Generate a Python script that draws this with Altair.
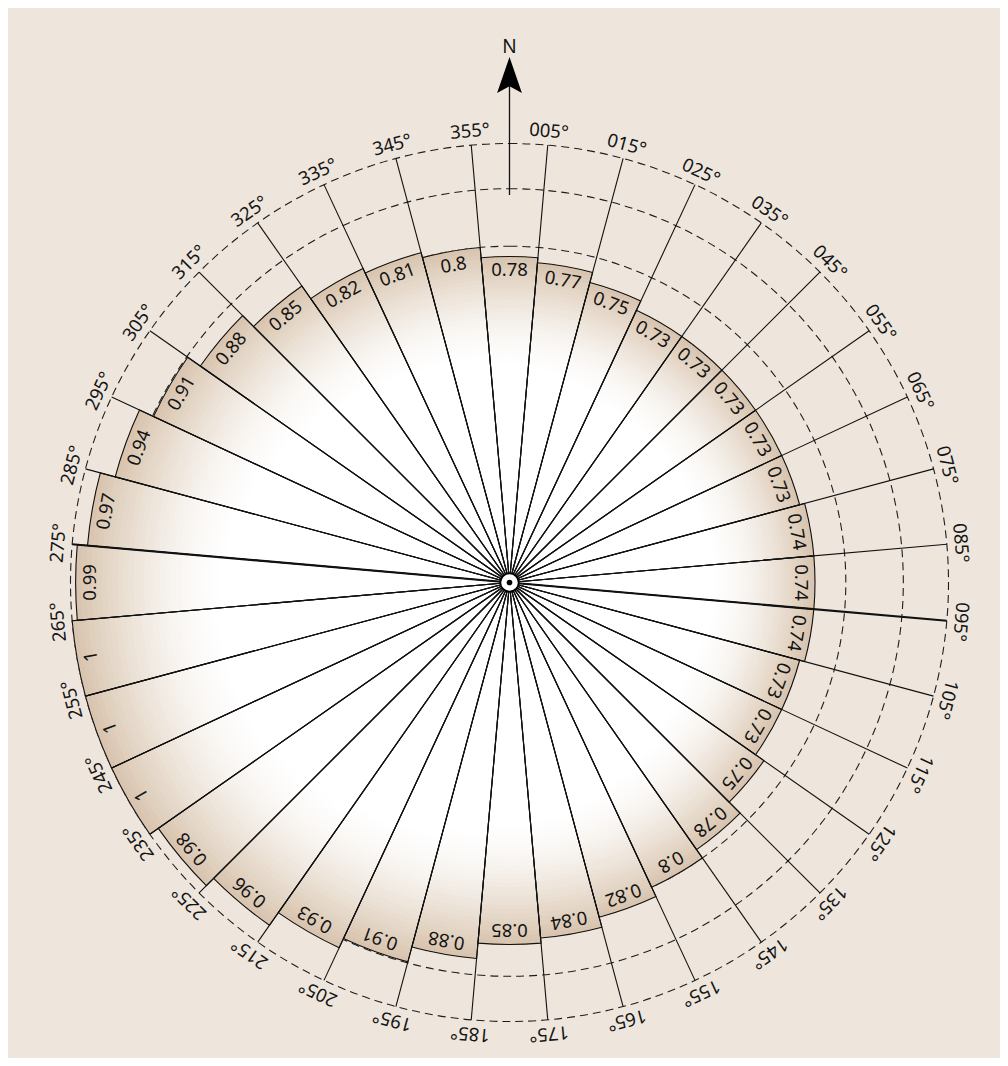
import math
import numpy as np
import pandas as pd
import altair as alt

# ---------------- data ----------------
sector_angles = list(range(0, 360, 10))          # sector centres (compass degrees)
sector_values = [0.78, 0.77, 0.75, 0.73, 0.73, 0.73, 0.73, 0.73, 0.74, 0.74,
                 0.74, 0.73, 0.73, 0.75, 0.78, 0.8, 0.82, 0.84, 0.85, 0.88,
                 0.91, 0.93, 0.96, 0.98, 1, 1, 1, 0.99, 0.97, 0.94,
                 0.91, 0.88, 0.85, 0.82, 0.81, 0.8]
line_angles = list(range(5, 360, 10))            # direction lines
line_labels = [f"{a:03d}°" for a in line_angles]
circle_values = [0.8, 0.912, 1.0]                # dashed reference circles

# ---------------- layout constants ----------------
V0 = 0.145          # value at the centre of the radial scale
R_OUT = 439         # pixel radius of value 1.0
W = 900
FONT = "Noto Sans"
INK = "#141414"
BG = "#EEE6DC"

theta_scale = alt.Scale(domain=[0, 360], range=[0, 2 * math.pi])
radius_scale = alt.Scale(type="linear", domain=[V0, 1.0], range=[0, R_OUT], zero=False, nice=False)
x_scale = alt.Scale(domain=[-W / 2, W / 2], nice=False, zero=False)
y_scale = alt.Scale(domain=[-W / 2, W / 2], nice=False, zero=False)

px_per_value = R_OUT / (1.0 - V0)

# ---------------- tables ----------------
K = 28
F0 = 0.66
ring_rows = []
for a, v in zip(sector_angles, sector_values):
    ring_rows.append(dict(t1=a - 5, t2=a + 5, value=v, inner=V0, shade=0.0, k=-1))
    for k in range(K):
        f = F0 + (1 - F0) * k / K
        ring_rows.append(dict(t1=a - 5, t2=a + 5, value=v, inner=V0 + (v - V0) * f,
                              shade=((k + 1) / K) ** 1.6, k=k))
ring_df = pd.DataFrame(ring_rows).sort_values("k", kind="stable")

sector_df = pd.DataFrame({
    "angle": sector_angles,
    "t1": [a - 5 for a in sector_angles],
    "t2": [a + 5 for a in sector_angles],
    "value": sector_values,
    "label": [f"{v:g}" for v in sector_values],
})
sector_df["label_r"] = sector_df["value"] - 14.0 / px_per_value

circles_df = pd.DataFrame({"t1": 0, "t2": 360, "value": circle_values})

lines_df = pd.DataFrame({"angle": line_angles, "label": line_labels})
lines_df["x0"] = 0.0
lines_df["y0"] = 0.0
lines_df["x1"] = R_OUT * np.sin(np.radians(lines_df["angle"]))
lines_df["y1"] = R_OUT * np.cos(np.radians(lines_df["angle"]))
lines_df["label_r"] = 1.0 + 8.0 / px_per_value

arrow_df = pd.DataFrame({"x": [0.0], "y_start": [387.5], "y_end": [500.0],
                         "y_head": [507.5], "y_n": [536.0], "n": ["N"]})
center_df = pd.DataFrame({"x": [0.0], "y": [0.0]})

# ---------------- layers ----------------
circles = alt.Chart(circles_df).mark_arc(
    fill="transparent", stroke="#1e1e1e", strokeWidth=1.1, strokeDash=[8, 5]
).encode(
    theta=alt.Theta("t1:Q", scale=theta_scale, stack=False),
    theta2="t2:Q",
    radius=alt.Radius("value:Q", scale=radius_scale),
)

rings = alt.Chart(ring_df).mark_arc().encode(
    theta=alt.Theta("t1:Q", scale=theta_scale, stack=False),
    theta2="t2:Q",
    radius=alt.Radius("value:Q", scale=radius_scale),
    radius2="inner:Q",
    color=alt.Color("shade:Q",
                    scale=alt.Scale(domain=[0, 1], range=["#FFFFFF", "#D9C5AF"], interpolate="rgb"),
                    legend=None),
    order=alt.Order("k:Q"),
)

outlines = alt.Chart(sector_df).mark_arc(
    fill="transparent", stroke="#111111", strokeWidth=1.1
).encode(
    theta=alt.Theta("t1:Q", scale=theta_scale, stack=False),
    theta2="t2:Q",
    radius=alt.Radius("value:Q", scale=radius_scale),
)

lines = alt.Chart(lines_df).mark_rule(color="#111111").encode(
    x=alt.X("x0:Q", scale=x_scale, axis=None),
    y=alt.Y("y0:Q", scale=y_scale, axis=None),
    x2="x1:Q",
    y2="y1:Q",
    strokeWidth=alt.condition("datum.angle == 95 || datum.angle == 275", alt.value(2.2), alt.value(1.1)),
)

arrow_shaft = alt.Chart(arrow_df).mark_rule(color="#111111", strokeWidth=1.3).encode(
    x=alt.X("x:Q", scale=x_scale, axis=None),
    y=alt.Y("y_start:Q", scale=y_scale, axis=None),
    y2="y_end:Q",
)

arrow_head = alt.Chart(arrow_df).mark_point(
    shape="M0,-1L0.69,1L0,0.63L-0.69,1Z", size=1296, filled=True,
    fill="#000000", opacity=1, strokeWidth=0
).encode(
    x=alt.X("x:Q", scale=x_scale, axis=None),
    y=alt.Y("y_head:Q", scale=y_scale, axis=None),
)

north = alt.Chart(arrow_df).mark_text(
    font=FONT, fontSize=19, color=INK, baseline="middle", align="center"
).encode(
    x=alt.X("x:Q", scale=x_scale, axis=None),
    y=alt.Y("y_n:Q", scale=y_scale, axis=None),
    text="n:N",
)

value_text = alt.Chart(sector_df).mark_text(
    font=FONT, fontSize=18.5, color=INK, baseline="middle", align="center"
).encode(
    theta=alt.Theta("angle:Q", scale=theta_scale, stack=False),
    radius=alt.Radius("label_r:Q", scale=radius_scale),
    angle=alt.Angle("angle:Q", scale=None),
    text="label:N",
)

degree_text = alt.Chart(lines_df).mark_text(
    font=FONT, fontSize=18.5, color=INK, baseline="alphabetic", align="center"
).encode(
    theta=alt.Theta("angle:Q", scale=theta_scale, stack=False),
    radius=alt.Radius("label_r:Q", scale=radius_scale),
    angle=alt.Angle("angle:Q", scale=None),
    text="label:N",
)

center_ring = alt.Chart(center_df).mark_point(
    shape="circle", size=330, filled=True, fill="#FFFFFF", stroke="#000000",
    strokeWidth=1.6, opacity=1
).encode(
    x=alt.X("x:Q", scale=x_scale, axis=None),
    y=alt.Y("y:Q", scale=y_scale, axis=None),
)

center_dot = alt.Chart(center_df).mark_point(
    shape="circle", size=32, filled=True, fill="#000000", opacity=1, strokeWidth=0
).encode(
    x=alt.X("x:Q", scale=x_scale, axis=None),
    y=alt.Y("y:Q", scale=y_scale, axis=None),
)

chart = alt.layer(
    circles, rings, outlines, lines, arrow_shaft, arrow_head, north,
    value_text, degree_text, center_ring, center_dot
).properties(
    width=W,
    height=W,
    background=BG,
    padding={"left": 51.5, "top": 124.5, "right": 40.5, "bottom": 25.5},
    autosize=alt.AutoSizeParams(type="none"),
).configure_view(
    stroke="transparent"
)

chart.save("out.html", embed_options={"renderer": "svg", "actions": False})
